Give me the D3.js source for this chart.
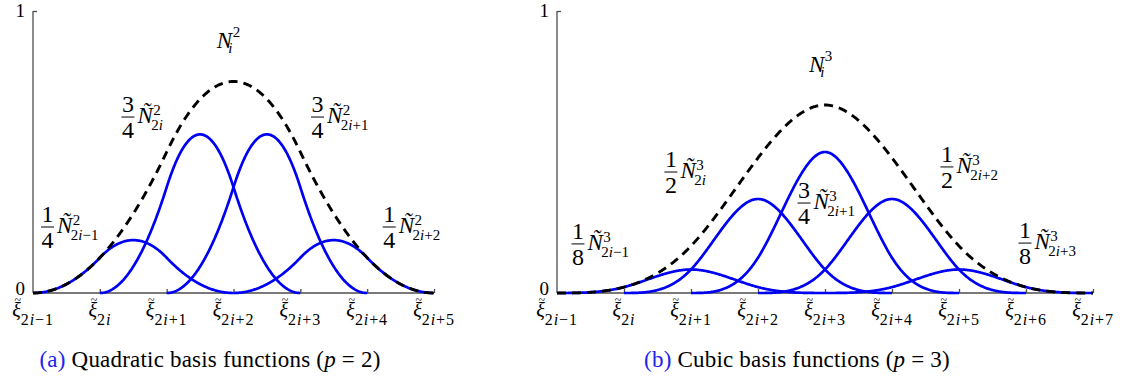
<!DOCTYPE html>
<html>
<head>
<meta charset="utf-8">
<script src="https://cdn.jsdelivr.net/npm/d3@7"></script>
<style>
  body { margin: 0; background: #fff; }
  svg { display: block; }
  text { font-family: "Liberation Serif", "DejaVu Serif", serif; fill: #000; }
</style>
</head>
<body>
<svg id="fig" width="1129" height="380"></svg>
<script>
// ---- data -------------------------------------------------------------
// Quadratic refinement (p = 2): N_i^2 = sum of coefficient * fine basis function
const quadKnotLabels  = ["2i\u22121", "2i", "2i+1", "2i+2", "2i+3", "2i+4", "2i+5"];
const quadCoeffs      = [1/4, 3/4, 3/4, 1/4];
const quadCoeffNum    = ["1", "3", "3", "1"];
const quadCoeffDen    = ["4", "4", "4", "4"];
const quadFineIndex   = ["2i\u22121", "2i", "2i+1", "2i+2"];

// Cubic refinement (p = 3)
const cubicKnotLabels = ["2i\u22121", "2i", "2i+1", "2i+2", "2i+3", "2i+4", "2i+5", "2i+6", "2i+7"];
const cubicCoeffs     = [1/8, 1/2, 3/4, 1/2, 1/8];
const cubicCoeffNum   = ["1", "1", "3", "1", "1"];
const cubicCoeffDen   = ["8", "2", "4", "2", "8"];
const cubicFineIndex  = ["2i\u22121", "2i", "2i+1", "2i+2", "2i+3"];

const yTickValues = [0, 1];
const yTickLabels = ["0", "1"];

// ---- layout (label anchors in data units of each panel) ----------------
const panels = [
  {
    degree: 2,
    knotLabels: quadKnotLabels, coeffs: quadCoeffs,
    num: quadCoeffNum, den: quadCoeffDen, fineIndex: quadFineIndex,
    xRange: [33, 434],
    coarseLabel: { x: 2.75, y: 0.869 },
    coeffLabelPos: [[0.217, 0.234], [1.42, 0.624], [4.257, 0.624], [5.33, 0.234]],
    caption: { tag: "(a)", text: " Quadratic basis functions (", p: "p", rest: " = 2)", x: 210 }
  },
  {
    degree: 3,
    knotLabels: cubicKnotLabels, coeffs: cubicCoeffs,
    num: cubicCoeffNum, den: cubicCoeffDen, fineIndex: cubicFineIndex,
    xRange: [557, 1093],
    coarseLabel: { x: 3.76, y: 0.784 },
    coeffLabelPos: [[0.313, 0.174], [1.70, 0.429], [3.687, 0.319], [5.82, 0.447], [6.985, 0.177]],
    caption: { tag: "(b)", text: " Cubic basis functions (", p: "p", rest: " = 3)", x: 797 }
  }
];

const BLUE = "#0000f2";
const AXIS = "#4d4d4d";
const svg = d3.select("#fig");

// Cox–de Boor recursion for a B-spline basis function on the given knots
function basis(t, knots, j, p) {
  if (p === 0) return (knots[j] <= t && t < knots[j + 1]) ? 1 : 0;
  let a = 0, b = 0;
  const d1 = knots[j + p] - knots[j];
  const d2 = knots[j + p + 1] - knots[j + 1];
  if (d1 > 0) a = (t - knots[j]) / d1 * basis(t, knots, j, p - 1);
  if (d2 > 0) b = (knots[j + p + 1] - t) / d2 * basis(t, knots, j + 1, p - 1);
  return a + b;
}

// subscript text like "2i+1" with an italic i
function indexTspans(sel, s) {
  const parts = s.split("i");
  sel.append("tspan").text(parts[0]);
  sel.append("tspan").style("font-style", "italic").text("i");
  if (parts[1]) sel.append("tspan").text(parts[1]);
}

panels.forEach(P => {
  const g = svg.append("g");
  const nKnots = P.knotLabels.length;
  const fineKnots = d3.range(nKnots);
  const x = d3.scaleLinear().domain([0, nKnots - 1]).range(P.xRange);
  const y = d3.scaleLinear().domain([0, 1]).range([293, 11]);
  const p = P.degree;
  const line = d3.line().x(d => x(d[0])).y(d => y(d[1]));

  // fine basis functions scaled by their refinement coefficients
  const fine = P.coeffs.map((c, k) => {
    const lo = k, hi = k + p + 1;
    const ts = d3.range(lo, hi, 0.01).concat([hi]);
    return ts.map(t => [t, c * basis(t, fineKnots, k, p)]);
  });

  // coarse function = sum of the scaled fine functions
  const ts = d3.range(0, nKnots - 1, 0.01).concat([nKnots - 1]);
  const coarse = ts.map(t => [t, d3.sum(P.coeffs, (c, k) => c * basis(t, fineKnots, k, p))]);

  // axes
  const xAxis = d3.axisTop(x).tickValues(fineKnots.slice(1)).tickSize(4).tickFormat("");
  const xg = g.append("g").attr("transform", `translate(0,${y(0)})`).call(xAxis);
  xg.select(".domain").attr("d", `M${x(0)},0H${x(nKnots - 1)}`);
  xg.selectAll("line, path").attr("stroke", AXIS).attr("stroke-width", 1.3);

  const yAxis = d3.axisRight(y).tickValues([1]).tickSize(4).tickFormat("");
  const yg = g.append("g").attr("transform", `translate(${x(0)},0)`).call(yAxis);
  yg.select(".domain").attr("d", `M0,${y(1)}V${y(0)}`);
  yg.selectAll("line, path").attr("stroke", AXIS).attr("stroke-width", 1.3);

  g.selectAll("text.ylab").data(yTickValues).join("text")
    .attr("class", "ylab")
    .attr("x", x(0) - 8).attr("y", d => y(d) + (d === 0 ? 2 : 6))
    .attr("text-anchor", "end").style("font-size", "19px")
    .text((d, i) => yTickLabels[i]);

  // knot labels: tilde-xi with subscript, centred under each knot
  P.knotLabels.forEach((lab, i) => {
    const t = g.append("text").attr("x", 0).attr("y", 317);
    t.append("tspan").style("font-style", "italic").style("font-size", "20px").text("\u03be");
    const sub = t.append("tspan").attr("dy", 8).style("font-size", "16px").attr("letter-spacing", "0.9px");
    indexTspans(sub, lab);
    const len = t.node().getComputedTextLength();
    t.attr("x", x(i) - len / 2);
    const s = t.node().getStartPositionOfChar(0).x;
    const e = t.node().getEndPositionOfChar(0).x;
    t.append("tspan").attr("x", (s + e) / 2 - 2).attr("y", 304)
      .style("font-size", "12px").text("~");
  });

  // curves
  fine.forEach(pts => {
    g.append("path").datum(pts).attr("d", line)
      .attr("fill", "none").attr("stroke", BLUE).attr("stroke-width", 2.7);
  });
  g.append("path").datum(coarse).attr("d", line)
    .attr("fill", "none").attr("stroke", "#000").attr("stroke-width", 2.9)
    .attr("stroke-dasharray", "9,6");

  // coarse label N_i^p
  {
    const lx = x(P.coarseLabel.x), ly = y(P.coarseLabel.y);
    const t = g.append("text").attr("x", lx).attr("y", ly);
    t.append("tspan").style("font-style", "italic").style("font-size", "23px").text("N");
    const w = t.node().getComputedTextLength();
    t.append("tspan").attr("x", lx + w + 0.5).attr("y", ly - 11).style("font-size", "15px").text(String(p));
    t.append("tspan").attr("x", lx + w - 4).attr("y", ly + 5).style("font-size", "15px")
      .style("font-style", "italic").text("i");
  }

  // coefficient labels  (num/den) Ñ^p_{index}
  P.coeffLabelPos.forEach((pos, k) => {
    const cx = x(pos[0]), by = y(pos[1]);
    const fr = g.append("text").attr("text-anchor", "middle").style("font-size", "24px");
    fr.append("tspan").attr("x", cx).attr("y", by - 5).text(P.num[k]);
    fr.append("tspan").attr("x", cx).attr("y", by + 21).text(P.den[k]);
    g.append("line").attr("x1", cx - 6.5).attr("x2", cx + 6.5).attr("y1", by).attr("y2", by)
      .attr("stroke", "#000").attr("stroke-width", 1);
    const nx = cx + 9.5, ny = by + 6;
    const t = g.append("text").attr("x", nx).attr("y", ny);
    t.append("tspan").style("font-style", "italic").style("font-size", "23px").text("\u00d1");
    const w = t.node().getComputedTextLength();
    t.append("tspan").attr("x", nx + w + 0.5).attr("y", by - 2).style("font-size", "15px").text(String(p));
    const sub = t.append("tspan").attr("x", nx + w - 1.5).attr("y", by + 13).style("font-size", "15px");
    indexTspans(sub, P.fineIndex[k]);
  });

  // caption
  const cap = svg.append("text").attr("x", P.caption.x).attr("y", 367)
    .attr("text-anchor", "middle").style("font-size", "23px").attr("letter-spacing", "0.2px");
  cap.append("tspan").style("fill", "#2323ee").text(P.caption.tag);
  cap.append("tspan").text(P.caption.text);
  cap.append("tspan").style("font-style", "italic").text(P.caption.p);
  cap.append("tspan").text(P.caption.rest);
});
</script>
</body>
</html>
